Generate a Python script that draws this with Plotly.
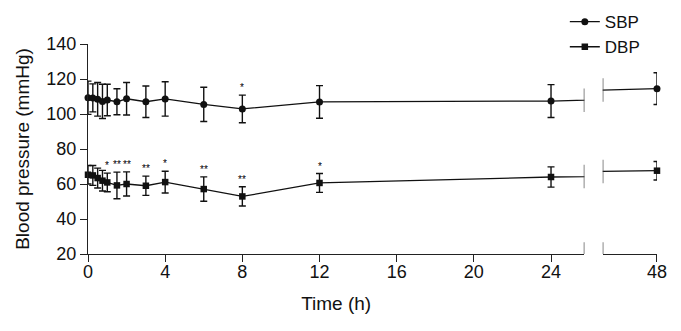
import numpy as np
import plotly.graph_objects as go

# ---- data ----
TIME = [0, 0.25, 0.5, 0.75, 1, 1.5, 2, 3, 4, 6, 8, 12, 24, 48]
SBP_MEAN = [109.3, 109.2, 108.4, 107.2, 108.0, 107.0, 108.7, 107.0, 108.6, 105.5, 102.9, 106.9, 107.4, 114.5]
SBP_SD = [9.5, 8.0, 9.6, 9.8, 9.0, 7.4, 9.3, 9.0, 9.8, 9.8, 7.9, 9.3, 9.4, 9.1]
DBP_MEAN = [65.3, 64.9, 63.4, 61.9, 60.9, 59.2, 60.0, 59.0, 61.1, 57.1, 52.9, 60.6, 64.0, 67.6]
DBP_SD = [5.3, 5.7, 5.7, 5.9, 5.3, 7.6, 6.9, 5.5, 6.2, 7.0, 5.5, 5.4, 5.8, 5.3]
SBP_SIG = {8: "*"}
DBP_SIG = {1: "*", 1.5: "**", 2: "**", 3: "**", 4: "*", 6: "**", 8: "**", 12: "*"}
X1_TICKS = [0, 4, 8, 12, 16, 20, 24]
X2_TICKS = [48]
Y_TICKS = [20, 40, 60, 80, 100, 120, 140]

X1_RANGE = [0, 25.73]
X2_RANGE = [45.19, 48]
Y_RANGE = [20, 140]

INK = "#111111"
AX = "#222222"
FONT = "Liberation Sans, Arial, sans-serif"

fig = go.Figure()
t = np.array(TIME)

series = [
    ("SBP", SBP_MEAN, SBP_SD, "circle", 7, SBP_SIG),
    ("DBP", DBP_MEAN, DBP_SD, "square", 6.5, DBP_SIG),
]

for name, mean, sd, sym, msize, sig in series:
    mean = np.array(mean)
    sd = np.array(sd)
    # full connecting lines on both axis segments (lines are clipped to subplot)
    for xa in ["x", "x2"]:
        fig.add_trace(go.Scatter(x=t, y=mean, mode="lines", xaxis=xa, yaxis="y",
                                 line=dict(color=INK, width=1.3), showlegend=False,
                                 hoverinfo="skip"))
    # markers with error bars
    m1 = t <= X1_RANGE[1]
    m2 = t >= X2_RANGE[0]
    for xa, m in [("x", m1), ("x2", m2)]:
        fig.add_trace(go.Scatter(x=t[m], y=mean[m], mode="markers", xaxis=xa, yaxis="y",
                                 marker=dict(symbol=sym, size=msize, color=INK),
                                 error_y=dict(type="data", array=sd[m], visible=True,
                                              color=INK, thickness=1.4, width=3.5),
                                 cliponaxis=False, showlegend=False))
    # legend entry
    fig.add_trace(go.Scatter(x=[None], y=[None], mode="lines+markers", name=name,
                             marker=dict(symbol=sym, size=msize, color=INK),
                             line=dict(color=INK, width=1.3)))
    # significance marks
    for tt, txt in sig.items():
        i = TIME.index(tt)
        fig.add_annotation(x=tt, y=mean[i] + sd[i], xref="x", yref="y", text=txt,
                           showarrow=False, yanchor="bottom", yshift=0,
                           font=dict(size=10, color="#000000", family=FONT))
    # break marks on data lines
    for xref, xv in [("x", X1_RANGE[1]), ("x2", X2_RANGE[0])]:
        yv = float(np.interp(xv, t, mean))
        fig.add_shape(type="line", xref=xref, yref="y", x0=xv, x1=xv,
                      y0=yv - 6.7, y1=yv + 6.7, line=dict(color="#444444", width=1.3))

# break marks on x axis
for xref, xv in [("x", X1_RANGE[1]), ("x2", X2_RANGE[0])]:
    fig.add_shape(type="line", xref=xref, yref="y", x0=xv, x1=xv,
                  y0=Y_RANGE[0] - 6.7, y1=Y_RANGE[0] + 6.7,
                  line=dict(color="#444444", width=1.3))

axis_common = dict(showgrid=False, zeroline=False, showline=True, linecolor=AX, linewidth=1.3,
                   ticks="outside", ticklen=7, tickwidth=1.3, tickcolor=AX, automargin=False,
                   tickfont=dict(size=18, color=INK, family=FONT))

# page body has an 8px default margin, so the figure is sized to fit the 681x331 window
fig.update_layout(
    width=673, height=323,
    margin=dict(l=80, r=24, t=36, b=77, autoexpand=False),
    paper_bgcolor="white", plot_bgcolor="white",
    font=dict(family=FONT, color=INK),
    xaxis=dict(domain=[0, 0.8724], range=X1_RANGE, tickvals=X1_TICKS, **axis_common,
               ticklabelstandoff=-6,
               title=dict(text="Time (h)", standoff=15,
                          font=dict(size=19, color=INK, family=FONT))),
    xaxis2=dict(domain=[0.9046, 1], range=X2_RANGE, tickvals=X2_TICKS, anchor="y",
                ticklabelstandoff=-6, **axis_common),
    yaxis=dict(range=Y_RANGE, tickvals=Y_TICKS, **axis_common,
               title=dict(text="Blood pressure (mmHg)", standoff=11,
                          font=dict(size=19, color=INK, family=FONT))),
    legend=dict(x=0.838, y=1.19, xanchor="left", yanchor="top", bgcolor="rgba(0,0,0,0)",
                font=dict(size=17, color=INK, family=FONT), itemwidth=30, tracegroupgap=0),
    showlegend=True,
)

fig.write_html("out.html")
